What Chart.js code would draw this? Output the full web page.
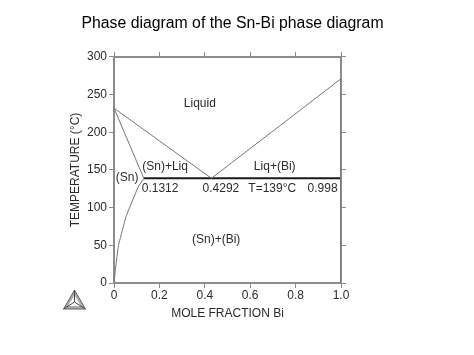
<!DOCTYPE html>
<html lang="en">
<head>
  <meta charset="UTF-8">
  <title>Sn-Bi phase diagram</title>
  <script src="https://cdn.jsdelivr.net/npm/chart.js"></script>
  <style>
    html, body { margin: 0; padding: 0; background: #fff; }
    #wrap { position: relative; width: 474px; height: 355px; }
    #logo { position: absolute; left: 62px; top: 289px; }
  </style>
</head>
<body>
  <div id="wrap">
    <canvas id="phaseChart" width="474" height="355"></canvas>
    <!-- Thermo-Calc style logo, not part of the data -->
    <svg id="logo" width="25" height="22" viewBox="0 0 25 22">
      <path d="M12.5 1 L23.5 20 L1.5 20 Z" fill="#aaa" stroke="#666" stroke-width="1"/>
      <path d="M12.5 6 L19 17 L6 17 Z" fill="#fff"/>
      <path d="M12.5 1 L12.5 13 M1.5 20 L12.5 13 M23.5 20 L12.5 13" stroke="#444" stroke-width="1" fill="none"/>
    </svg>
  </div>

  <script>
    // Values: x = mole fraction Bi, y = temperature (C)
    const liquidusSnX = [0, 0.4292];
    const liquidusSnY = [232, 139];
    const liquidusBiX = [0.4292, 1.0];
    const liquidusBiY = [139, 271];
    const solidusX = [0, 0.1312];
    const solidusY = [232, 139];
    const solvusX = [0, 0.006, 0.013, 0.02, 0.037, 0.053, 0.07, 0.088, 0.106, 0.1312];
    const solvusY = [0, 17, 35, 50, 70, 88, 101, 114, 127, 139];
    const eutecticX = [0.1312, 0.998];
    const eutecticY = [139, 139];
    const biSideX = [1.0, 0.998, 0.998];
    const biSideY = [271, 139, 0];

    const xTicks = [0, 0.2, 0.4, 0.6, 0.8, 1.0];
    const yTicks = [0, 50, 100, 150, 200, 250, 300];

    const regionLabels = ['Liquid', '(Sn)+Liq', '(Sn)', 'Liq+(Bi)', '(Sn)+(Bi)', '0.1312', '0.4292', 'T=139°C', '0.998'];
    const regionLabelX = [0.378, 0.225, 0.058, 0.708, 0.45, 0.203, 0.471, 0.697, 0.919];
    const regionLabelY = [238, 154, 140, 154, 58, 125, 125, 125, 125];

    function toPoints(xs, ys) {
      return xs.map((x, i) => ({ x: x, y: ys[i] }));
    }

    function lineSet(xs, ys, color, width, tension) {
      return {
        data: toPoints(xs, ys),
        showLine: true,
        borderColor: color,
        borderWidth: width,
        pointRadius: 0,
        fill: false,
        tension: tension || 0
      };
    }

    const axisColor = '#8c8c8c';
    const textColor = '#2b2b2b';
    const fontFamily = '"Liberation Sans", Arial, sans-serif';

    // Region labels and compositions, placed in data units
    const regionLabelPlugin = {
      id: 'regionLabels',
      afterDatasetsDraw(chart) {
        const ctx = chart.ctx;
        ctx.save();
        ctx.font = '12px ' + fontFamily;
        ctx.fillStyle = textColor;
        ctx.textAlign = 'center';
        ctx.textBaseline = 'middle';
        regionLabels.forEach((text, i) => {
          ctx.fillText(text, chart.scales.x.getPixelForValue(regionLabelX[i]), chart.scales.y.getPixelForValue(regionLabelY[i]));
        });
        ctx.restore();
      }
    };

    function fixedTicks(values) {
      return axis => { axis.ticks = values.map(v => ({ value: v })); };
    }

    function sideScale(position, values, max, fit) {
      return {
        type: 'linear',
        position: position,
        min: 0,
        max: max,
        afterBuildTicks: fixedTicks(values),
        afterFit: fit,
        border: { color: axisColor, width: 2 },
        grid: { drawOnChartArea: false, color: axisColor, lineWidth: 1, tickLength: 5 },
        ticks: { display: false }
      };
    }

    new Chart(document.getElementById('phaseChart').getContext('2d'), {
      type: 'scatter',
      data: {
        datasets: [
          lineSet(liquidusSnX, liquidusSnY, '#777777', 1),
          lineSet(liquidusBiX, liquidusBiY, '#777777', 1),
          lineSet(solidusX, solidusY, '#777777', 1),
          lineSet(solvusX, solvusY, '#777777', 1, 0.3),
          lineSet(biSideX, biSideY, '#777777', 1),
          lineSet(eutecticX, eutecticY, '#1a1a1a', 2)
        ]
      },
      plugins: [regionLabelPlugin],
      options: {
        responsive: false,
        animation: false,
        // left/right padding keeps the axis titles next to the plot and the chart title centred
        layout: { padding: { left: 68, right: 77, top: 0, bottom: 34 } },
        plugins: {
          legend: { display: false },
          tooltip: { enabled: false },
          title: {
            display: true,
            text: 'Phase diagram of the Sn-Bi phase diagram',
            color: '#000',
            font: { family: fontFamily, size: 15.8, weight: 'normal' },
            padding: { top: 14, bottom: 0 }
          }
        },
        scales: {
          x: {
            type: 'linear',
            position: 'bottom',
            min: 0,
            max: 1,
            afterBuildTicks: fixedTicks(xTicks),
            afterFit: s => { s.height = 38; },
            border: { color: axisColor, width: 2 },
            grid: { drawOnChartArea: false, color: axisColor, tickLength: 5 },
            ticks: {
              color: textColor,
              padding: 0,
              maxRotation: 0,
              font: { family: fontFamily, size: 12 },
              callback: v => (v === 0 ? '0' : v.toFixed(1))
            },
            title: {
              display: true,
              text: 'MOLE FRACTION Bi',
              color: textColor,
              font: { family: fontFamily, size: 12 },
              padding: { top: 0, bottom: 0 }
            }
          },
          y: {
            type: 'linear',
            position: 'left',
            min: 0,
            max: 300,
            afterBuildTicks: fixedTicks(yTicks),
            afterFit: s => { s.width = 46; },
            border: { color: axisColor, width: 2 },
            grid: { drawOnChartArea: false, color: axisColor, tickLength: 5 },
            ticks: {
              color: textColor,
              padding: 2,
              font: { family: fontFamily, size: 12 }
            },
            title: {
              display: true,
              text: 'TEMPERATURE (°C)',
              color: textColor,
              font: { family: fontFamily, size: 12 },
              padding: { top: 0, bottom: 0 }
            }
          },
          xTop: sideScale('top', xTicks, 1, s => { s.height = 24; }),
          yRight: sideScale('right', yTicks, 300, s => { s.width = 56; })
        }
      }
    });
  </script>
</body>
</html>
